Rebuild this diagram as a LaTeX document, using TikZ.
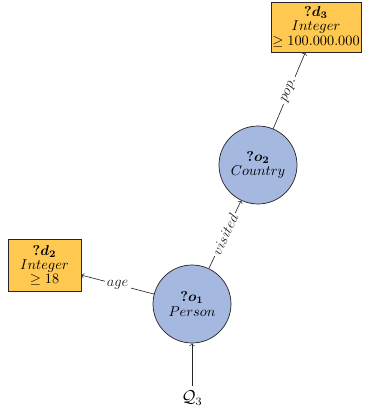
\documentclass[tikz,border=0pt]{standalone}
\usepackage{amsmath,amssymb,bm}
\begin{document}
\begin{tikzpicture}[x=0.7pt,y=-0.7pt,
  objnode/.style={circle,draw=black!85,line width=0.5pt,fill=objblue,minimum size=54.6pt,inner sep=0pt,align=center},
  datanode/.style={rectangle,draw=black!85,line width=0.5pt,fill=dataorange,inner sep=1pt,align=center},
  edge/.style={->,line width=0.45pt,black!85},
  lbl/.style={fill=white,inner sep=1.5pt,font=\normalsize}]
\definecolor{objblue}{RGB}{164,184,224}
\definecolor{dataorange}{RGB}{255,200,80}
\useasboundingbox (0,0) rectangle (366,411);

\node[objnode] (o1) at (192,304) {$\bm{?o_1}$\\[-2pt]$Person$};
\node[objnode] (o2) at (258,165) {$\bm{?o_2}$\\[-2pt]$Country$};
\node[datanode,minimum width=63pt,minimum height=35pt] (d3) at (316,27)
  {$\bm{?d_3}$\\[-2pt]$Integer$\\[-2pt]$\geq 100.000.000$};
\node[datanode,minimum width=51pt,minimum height=36pt] (d2) at (44.5,265.5)
  {$\bm{?d_2}$\\[-2pt]$Integer$\\[-2pt]$\geq 18$};
\node (q3) at (192,398) {\large$\mathcal{Q}_3$};

\draw[edge] (q3) -- (o1);
\draw[edge] (o1) -- node[lbl] {$age$} (d2);
\draw[edge] (o1) -- node[lbl,sloped] {$visited$} (o2);
\draw[edge] (o2) -- node[lbl,sloped] {$pop.$} (d3);
\end{tikzpicture}
\end{document}
